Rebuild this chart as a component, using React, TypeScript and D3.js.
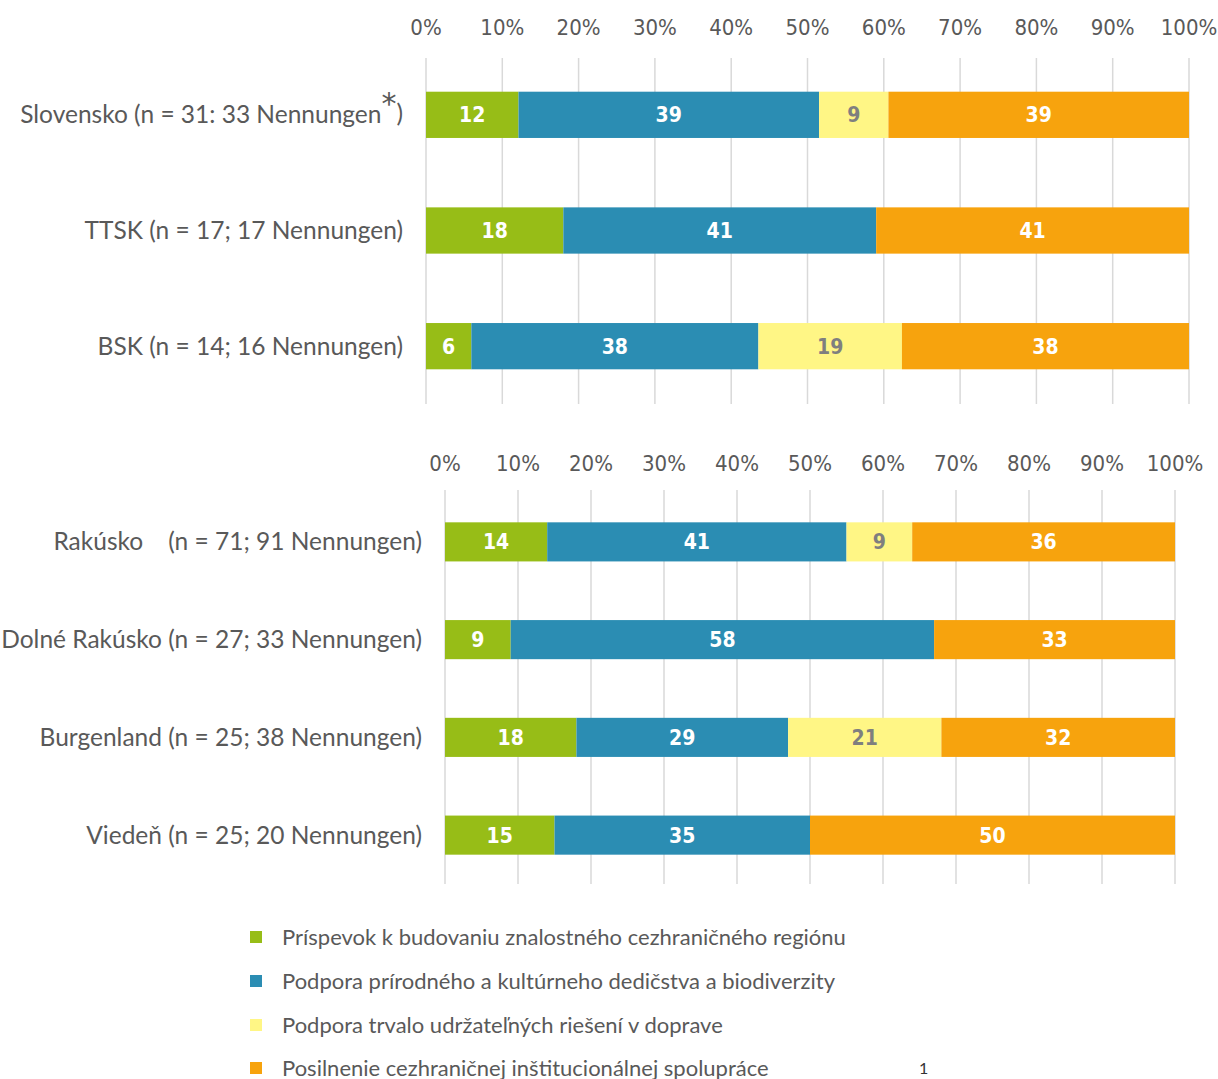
import React from "react";
import * as d3 from "d3";

const seriesNames = [
  "Príspevok k budovaniu znalostného cezhraničného regiónu",
  "Podpora prírodného a kultúrneho dedičstva a biodiverzity",
  "Podpora trvalo udržateľných riešení v doprave",
  "Posilnenie cezhraničnej inštitucionálnej spolupráce",
];
const seriesKeys = ["knowledge", "heritage", "transport", "institutional"];
const seriesColors = ["#97BD17", "#2B8DB3", "#FFF685", "#F7A30D"];
const seriesTextColors = ["#ffffff", "#ffffff", "#7f7f7f", "#ffffff"];

const topCategories = [
  "Slovensko (n = 31: 33 Nennungen",
  "TTSK (n = 17; 17 Nennungen)",
  "BSK (n = 14; 16 Nennungen)",
];
const topKnowledge = [12, 18, 6];
const topHeritage = [39, 41, 38];
const topTransport = [9, 0, 19];
const topInstitutional = [39, 41, 38];

const bottomCategories = [
  "Rakúsko    (n = 71; 91 Nennungen)",
  "Dolné Rakúsko (n = 27; 33 Nennungen)",
  "Burgenland (n = 25; 38 Nennungen)",
  "Viedeň (n = 25; 20 Nennungen)",
];
const bottomKnowledge = [14, 9, 18, 15];
const bottomHeritage = [41, 58, 29, 35];
const bottomTransport = [9, 0, 21, 0];
const bottomInstitutional = [36, 33, 32, 50];

const tickValues = [0, 0.1, 0.2, 0.3, 0.4, 0.5, 0.6, 0.7, 0.8, 0.9, 1];

const LABEL_FONT = "Lato, 'Open Sans', sans-serif";
const NUM_FONT = "'Liberation Sans Narrow', 'DejaVu Sans Condensed', sans-serif";
const GRAY = "#595959";

function buildRows(cats: string[], a: number[], b: number[], c: number[], d: number[]) {
  return cats.map((cat, i) => ({
    category: cat,
    knowledge: a[i],
    heritage: b[i],
    transport: c[i],
    institutional: d[i],
  }));
}

type Panel = {
  rows: any[];
  x0: number;
  x1: number;
  axisY: number;
  gridTop: number;
  gridBottom: number;
  bandTop: number;
  bandBottom: number;
  padding: number;
  labelRight: number;
  star?: boolean;
};

function ChartPanel({ p }: { p: Panel }) {
  const x = d3.scaleLinear().domain([0, 1]).range([p.x0, p.x1]);
  const y = d3
    .scaleBand()
    .domain(p.rows.map((r) => r.category))
    .range([p.bandTop, p.bandBottom])
    .paddingInner(p.padding)
    .paddingOuter(p.padding / 2);
  const stack = d3.stack<any>().keys(seriesKeys).offset(d3.stackOffsetExpand);
  const layers = stack(p.rows);
  const fmt = d3.format(".0%");
  return (
    <g>
      {tickValues.map((t) => (
        <g key={t}>
          <line x1={x(t)} x2={x(t)} y1={p.gridTop} y2={p.gridBottom} stroke="#d9d9d9" strokeWidth={1.5} />
          <text x={x(t)} y={p.axisY} textAnchor="middle" fontFamily={NUM_FONT} fontSize={22} fill={GRAY}>
            {fmt(t)}
          </text>
        </g>
      ))}
      {layers.map((layer, li) => (
        <g key={layer.key}>
          {layer.map((seg, i) => {
            const v = p.rows[i][layer.key];
            if (!v) return null;
            const yy = y(p.rows[i].category)!;
            const w = x(seg[1]) - x(seg[0]);
            return (
              <g key={i}>
                <rect x={x(seg[0])} y={yy} width={w} height={y.bandwidth()} fill={seriesColors[li]} />
                <text
                  x={x(seg[0]) + w / 2}
                  y={yy + y.bandwidth() / 2}
                  dy="0.36em"
                  textAnchor="middle"
                  fontFamily={NUM_FONT}
                  fontWeight="bold"
                  fontSize={21}
                  fill={seriesTextColors[li]}
                >
                  {v}
                </text>
              </g>
            );
          })}
        </g>
      ))}
      {p.rows.map((r, i) => {
        const cy = y(r.category)! + y.bandwidth() / 2;
        if (p.star && i === 0) {
          return (
            <text key={i} x={p.labelRight} y={cy} dy="0.35em" textAnchor="end" fontFamily={LABEL_FONT} fontSize={24.5} fill={GRAY} style={{ whiteSpace: "pre" }}>
              {r.category}
              <tspan fontFamily="'DejaVu Sans', sans-serif" fontSize={30} dy="-0.3em">*</tspan>
              <tspan dy="0.3em">)</tspan>
            </text>
          );
        }
        return (
          <text key={i} x={p.labelRight} y={cy} dy="0.35em" textAnchor="end" fontFamily={LABEL_FONT} fontSize={24.5} fill={GRAY} style={{ whiteSpace: "pre" }}>
            {r.category}
          </text>
        );
      })}
    </g>
  );
}

export default function App() {
  const topRows = buildRows(topCategories, topKnowledge, topHeritage, topTransport, topInstitutional);
  const bottomRows = buildRows(bottomCategories, bottomKnowledge, bottomHeritage, bottomTransport, bottomInstitutional);

  const top: Panel = {
    rows: topRows,
    x0: 426,
    x1: 1189,
    axisY: 35,
    gridTop: 58,
    gridBottom: 404,
    bandTop: 57,
    bandBottom: 404,
    padding: 0.6,
    labelRight: 403,
    star: true,
  };
  const bottom: Panel = {
    rows: bottomRows,
    x0: 445,
    x1: 1175,
    axisY: 471,
    gridTop: 490,
    gridBottom: 884,
    bandTop: 493,
    bandBottom: 884,
    padding: 0.6,
    labelRight: 422,
  };

  const legendY = [937, 981, 1025, 1068];

  return (
    <svg width={1218} height={1079} style={{ position: "absolute", left: 0, top: 0, background: "#fff" }}>
      <rect x={0} y={0} width={1218} height={1079} fill="#fff" />
      <ChartPanel p={top} />
      <ChartPanel p={bottom} />
      {seriesNames.map((name, i) => (
        <g key={name}>
          <rect x={250} y={legendY[i] - 6} width={12} height={12} fill={seriesColors[i]} />
          <text x={282} y={legendY[i]} dy="0.35em" fontFamily={LABEL_FONT} fontSize={22} fill={GRAY}>
            {name}
          </text>
        </g>
      ))}
      <text x={919} y={1068} dy="0.35em" fontFamily={LABEL_FONT} fontSize={16} fill="#333">1</text>
    </svg>
  );
}
